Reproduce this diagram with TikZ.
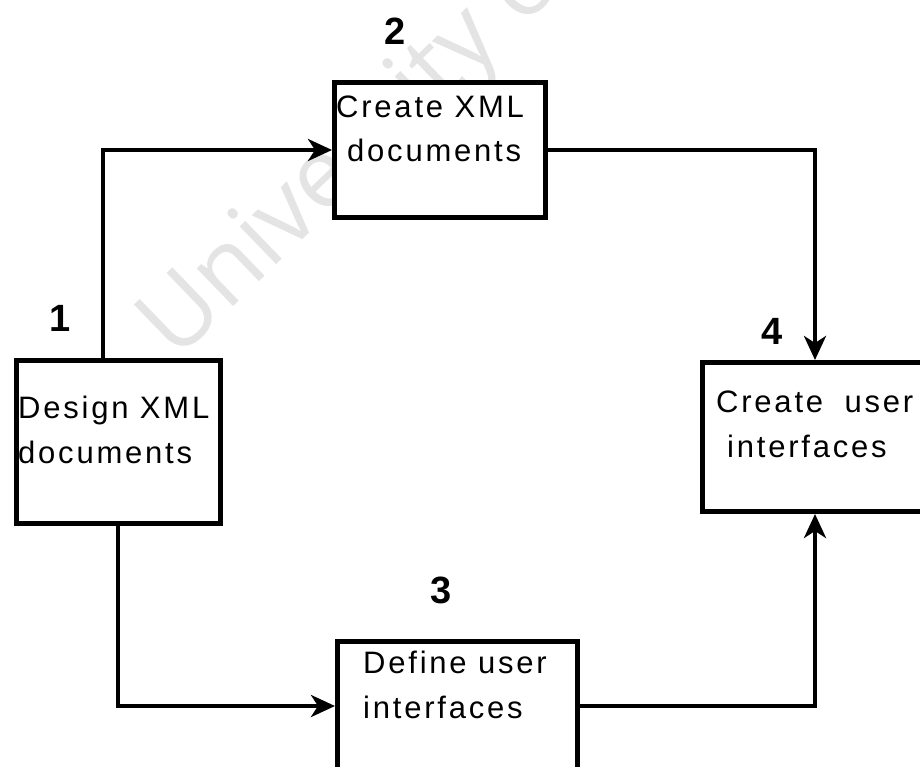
\documentclass[tikz,border=0pt]{standalone}
\usepackage{fontspec}
\setmainfont{Liberation Sans}
\newfontfamily\wmfont{Open Sans}
\usetikzlibrary{arrows.meta,calc}
\definecolor{wmark}{HTML}{E4E4E4}
\begin{document}
\begin{tikzpicture}[x=1pt,y=-1pt,
  box/.style={draw=black, line width=5pt, fill=white, inner sep=0pt, anchor=north west},
  wire/.style={line width=4pt},
  flow/.style={wire, -{Stealth[length=24pt,width=22pt,inset=7pt]}},
  txt/.style={anchor=base west, inner sep=0pt, font=\fontsize{31}{36}\selectfont\addfontfeature{LetterSpace=9}},
  num/.style={anchor=base, inner sep=0pt, font=\fontsize{38}{40}\selectfont\bfseries},
]
\useasboundingbox (0,0) rectangle (920,767);
\clip (0,0) rectangle (920,767);

% faint background lettering
\node[anchor=base west, inner sep=0pt, rotate=44, text=wmark,
      font=\wmfont\fontsize{98}{100}\selectfont] (wm) at (176,362) {University of};

% process boxes
\node[box, minimum width=204pt, minimum height=163pt] (b1) at (14,358) {};
\node[box, minimum width=211pt, minimum height=135pt] (b2) at (332,80) {};
\node[box, minimum width=240pt, minimum height=160pt] (b3) at (335,639) {};
\node[box, minimum width=240pt, minimum height=149pt] (b4) at (700,360) {};

% box captions
\node[txt] (t1a) at (18,418) {Design XML};
\node[txt] (t1b) at (18,463) {documents};
\node[txt] (t2a) at (336,118) {Create XML};
\node[txt] (t2b) at (347,162) {documents};
\node[txt] (t3a) at (363,673) {Define user};
\node[txt] (t3b) at (363,718) {interfaces};
\node[txt] (t4a) at (716,412) {Create\hspace{10pt} user};
\node[txt] (t4b) at (727,457) {interfaces};

% step numbers
\node[num] (n1) at (60,331) {1};
\node[num] (n2) at (395,45) {2};
\node[num] (n3) at (441,603) {3};
\node[num] (n4) at (772,344) {4};

% connectors
\draw[flow] ($(b1.north west)+(89,0)$) |- (b2.west);
\draw[flow] (b2.east) -| ($(b4.north west)+(115,0)$);
\draw[flow] ($(b1.south west)+(104,0)$) |- ($(b3.north west)+(0,67)$);
\draw[flow] ($(b3.north east)+(0,67)$) -| ($(b4.south west)+(115,0)$);
\end{tikzpicture}
\end{document}
